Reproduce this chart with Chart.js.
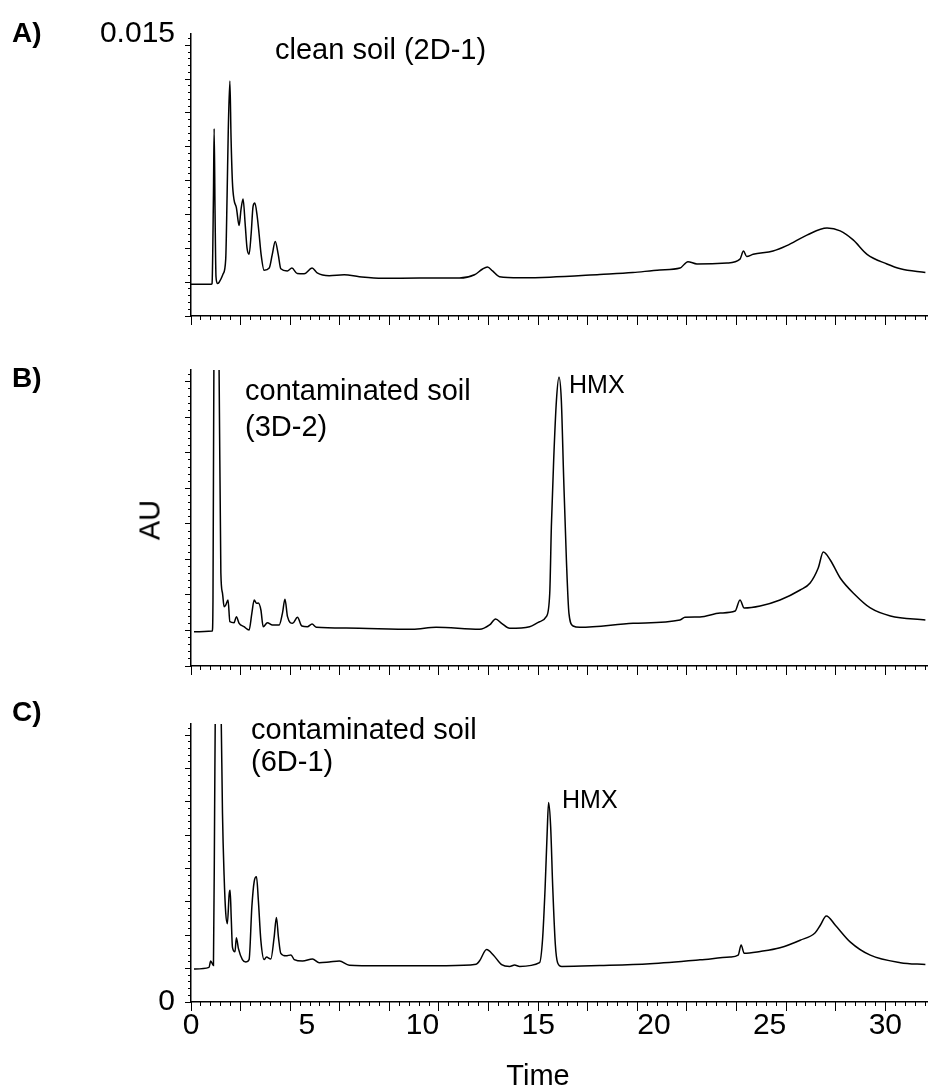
<!DOCTYPE html>
<html>
<head>
<meta charset="utf-8">
<script src="https://cdn.jsdelivr.net/npm/chart.js@4.4.0/dist/chart.umd.min.js"></script>
<style>
  body { margin: 0; background: #fff; width: 929px; height: 1092px; position: relative; overflow: hidden;
         font-family: "Liberation Sans", Arial, sans-serif; color: #000; }
  canvas { position: absolute; left: 0; }
  .t { position: absolute; white-space: nowrap; line-height: 1; }
</style>
</head>
<body>
<canvas id="chartA" width="929" height="350" style="top:0px"></canvas>
<canvas id="chartB" width="929" height="340" style="top:350px"></canvas>
<canvas id="chartC" width="929" height="402" style="top:690px"></canvas>

<div class="t" style="left:12px; top:19px; font-size:28px; font-weight:bold">A)</div>
<div class="t" style="left:12px; top:364px; font-size:28px; font-weight:bold">B)</div>
<div class="t" style="left:12px; top:698px; font-size:28px; font-weight:bold">C)</div>

<div class="t" style="left:275px; top:35px; font-size:29px">clean soil (2D-1)</div>
<div class="t" style="left:245px; top:376px; font-size:29px">contaminated soil</div>
<div class="t" style="left:245px; top:412px; font-size:29px">(3D-2)</div>
<div class="t" style="left:569px; top:372px; font-size:25px">HMX</div>
<div class="t" style="left:251px; top:715px; font-size:29px">contaminated soil</div>
<div class="t" style="left:251px; top:747px; font-size:29px">(6D-1)</div>
<div class="t" style="left:562px; top:787px; font-size:25px">HMX</div>

<div class="t" style="left:150px; top:520px; font-size:29px; transform:translate(-50%,-50%) rotate(-90deg)">AU</div>
<div class="t" style="left:538px; top:1061px; font-size:29px; transform:translateX(-50%)">Time</div>

<script>
// retention time (min) and absorbance (mAU above each panel's baseline axis)
const timeA = [0, 0.87, 0.91, 0.97, 1.00, 1.04, 1.08, 1.14, 1.21, 1.39, 1.50, 1.56, 1.61, 1.68, 1.73, 1.79, 1.86, 1.96,
  2.08, 2.16, 2.25, 2.34, 2.42, 2.51, 2.60, 2.68, 2.76, 2.86, 2.94, 3.03, 3.16, 3.38, 3.51, 3.64, 3.77, 3.88, 4.16, 4.36,
  4.59, 4.89, 5.23, 5.45, 5.97, 6.62, 7.27, 8.27, 9.87, 11.60, 12.25, 12.60, 12.81, 13.03, 13.33, 14.20, 15.50, 17.66,
  19.09, 20.26, 21.13, 21.47, 21.86, 23.16, 23.72, 23.87, 24.01, 24.29, 25.15, 25.74, 26.61, 27.48, 28.05, 28.61, 29.21,
  30.07, 30.65, 31.73];
const auA = [0.561, 0.561, 0.578, 2.143, 3.321, 1.803, 0.697, 0.578, 0.595, 0.748, 1.009, 2.143, 3.282, 4.167, 3.163, 2.369,
  2.058, 1.922, 1.604, 1.888, 2.075, 1.633, 1.207, 1.094, 1.463, 1.939, 2.002, 1.769, 1.463, 1.088, 0.811, 0.850, 1.088,
  1.321, 1.088, 0.838, 0.799, 0.850, 0.753, 0.748, 0.850, 0.765, 0.714, 0.731, 0.697, 0.668, 0.672, 0.672, 0.731, 0.833,
  0.867, 0.799, 0.697, 0.680, 0.689, 0.736, 0.770, 0.816, 0.850, 0.964, 0.923, 0.940, 1.009, 1.151, 1.054, 1.094, 1.151,
  1.247, 1.434, 1.560, 1.509, 1.349, 1.094, 0.923, 0.838, 0.770];

const timeB = [0.13, 0.92, 0.95, 0.99, 1.10, 1.21, 1.29, 1.36, 1.43, 1.50, 1.60, 1.68, 1.86, 1.96, 2.08, 2.29, 2.51, 2.63,
  2.73, 2.83, 2.91, 3.02, 3.12, 3.30, 3.52, 3.81, 3.95, 4.06, 4.17, 4.39, 4.60, 4.79, 5.03, 5.23, 5.42, 6.70, 9.57, 10.59,
  12.47, 12.90, 13.16, 13.42, 13.77, 14.63, 15.06, 15.35, 15.50, 15.57, 15.67, 15.79, 15.90, 16.00, 16.10, 16.22, 16.33,
  16.51, 16.80, 19.10, 21.13, 21.34, 21.99, 22.86, 23.51, 23.72, 23.90, 24.59, 25.45, 26.32, 26.75, 27.10, 27.32, 27.62,
  28.05, 28.70, 29.35, 30.22, 31.73];
const auB = [0.579, 0.591, 1.115, 5.169, 7.0, 5.169, 1.571, 1.233, 1.002, 1.030, 1.115, 0.748, 0.731, 0.833, 0.721, 0.664,
  0.608, 0.895, 1.115, 1.059, 1.064, 0.946, 0.664, 0.731, 0.693, 0.693, 0.890, 1.127, 0.833, 0.721, 0.823, 0.676, 0.664,
  0.709, 0.654, 0.642, 0.620, 0.654, 0.620, 0.693, 0.794, 0.721, 0.637, 0.664, 0.748, 0.833, 1.228, 2.353, 3.480, 4.493,
  4.877, 4.493, 3.198, 1.791, 0.890, 0.676, 0.654, 0.721, 0.777, 0.823, 0.828, 0.895, 0.929, 1.115, 0.980, 1.014, 1.115,
  1.284, 1.402, 1.655, 1.926, 1.791, 1.486, 1.199, 0.980, 0.845, 0.777];

const timeC = [0.13, 0.78, 0.85, 0.97, 1.02, 1.05, 1.17, 1.30, 1.36, 1.43, 1.50, 1.57, 1.65, 1.69, 1.74, 1.79, 1.90, 1.96,
  2.05, 2.22, 2.37, 2.51, 2.63, 2.73, 2.83, 2.91, 3.02, 3.16, 3.26, 3.45, 3.59, 3.69, 3.78, 3.88, 4.10, 4.32, 4.46, 4.82,
  5.25, 5.54, 5.97, 6.41, 6.84, 8.14, 11.03, 12.32, 12.47, 12.77, 13.07, 13.42, 13.77, 13.98, 14.20, 15.06, 15.19, 15.30,
  15.39, 15.45, 15.54, 15.63, 15.74, 15.84, 16.02, 17.66, 19.83, 21.99, 23.29, 23.64, 23.77, 23.90, 24.59, 25.45, 26.32,
  26.97, 27.19, 27.45, 27.84, 28.49, 29.35, 30.65, 31.73];
const auC = [0.594, 0.623, 0.736, 0.657, 3.40, 5.25, 7.0, 5.25, 3.40, 2.278, 1.604, 1.409, 1.941, 2.008, 1.493, 0.988,
  0.904, 1.157, 0.960, 0.763, 0.719, 0.763, 1.717, 2.167, 2.251, 1.830, 1.099, 0.763, 0.808, 0.774, 1.157, 1.520, 1.157,
  0.875, 0.830, 0.847, 0.763, 0.736, 0.774, 0.707, 0.719, 0.736, 0.662, 0.652, 0.652, 0.678, 0.741, 0.943, 0.842, 0.673,
  0.640, 0.665, 0.640, 0.707, 1.128, 2.054, 3.064, 3.586, 3.148, 2.054, 1.044, 0.707, 0.640, 0.657, 0.690, 0.758, 0.808,
  0.842, 1.027, 0.875, 0.909, 0.976, 1.111, 1.246, 1.380, 1.549, 1.380, 1.077, 0.842, 0.707, 0.673];

// axis ranges and tick steps (detector plot's own ticks, labels added separately)
const timeMax = 31.8;
const panelSpan = 5;            // mAU shown in each panel
const timeLabels = [0, 5, 10, 15, 20, 25, 30];
const timeMajorStep = 15 / 7;
const timeMinorStep = 3 / 7;
const auMajorStep = 0.6;
const auMinorStep = 0.12;

const plotLeft = 191;

function stepTicks(max, step) {
  const out = [];
  for (let i = 0; i * step <= max + 1e-9; i++) out.push({ value: i * step });
  return out;
}

const zeroWidth = s => { s.width = 0; };
const zeroHeight = s => { s.height = 0; };

function tickAxis(position, max, step, len, border) {
  return {
    type: 'linear', position, min: 0, max,
    afterBuildTicks: s => { s.ticks = stepTicks(max, step); },
    afterFit: position === 'bottom' ? zeroHeight : zeroWidth,
    ticks: { display: false },
    grid: { display: true, drawOnChartArea: false, drawTicks: true, tickLength: len, color: '#000', lineWidth: 1 },
    border: { display: border, color: '#000', width: 1.5 }
  };
}

function makePanel(id, times, values, pad, extra) {
  const scales = {
    x: tickAxis('bottom', timeMax, timeMajorStep, 9, true),
    xMinor: tickAxis('bottom', timeMax, timeMinorStep, 4, false),
    y: tickAxis('left', panelSpan, auMajorStep, 6, true),
    yMinor: tickAxis('left', panelSpan, auMinorStep, 3, false)
  };
  // label axes (added last) sit outside the zero-width tick axes and take the margin themselves
  const hasYLabel = extra && extra.yLabel;
  const hasXLabel = extra && extra.xLabel;
  Object.assign(scales, extra || {});
  return new Chart(document.getElementById(id), {
    type: 'line',
    data: {
      datasets: [{
        data: times.map((t, i) => ({ x: t, y: values[i] })),
        borderColor: '#000', borderWidth: 1.5, pointRadius: 0, fill: false,
        cubicInterpolationMode: 'monotone'
      }]
    },
    options: {
      responsive: false, animation: false, events: [],
      layout: { padding: { left: hasYLabel ? 0 : plotLeft, right: 2, top: pad[0], bottom: hasXLabel ? 0 : pad[1] } },
      plugins: { legend: { display: false }, tooltip: { enabled: false } },
      scales
    }
  });
}

const labelFont = { family: '"Liberation Sans", Arial, sans-serif', size: 30 };

function yLabelAxis(value, text) {
  return {
    type: 'linear', position: 'left', min: 0, max: panelSpan,
    afterBuildTicks: s => { s.ticks = [{ value }]; },
    afterFit: s => { s.width = plotLeft; },
    grid: { display: false, drawTicks: false },
    border: { display: false },
    ticks: { autoSkip: false, padding: 16, color: '#000', font: labelFont, callback: () => text }
  };
}

makePanel('chartA', timeA, auA, [32, 24], { yLabel: yLabelAxis(panelSpan, '0.015') });
makePanel('chartB', timeB, auB, [20, 24]);
makePanel('chartC', timeC, auC, [15, 90], {
  yLabel: yLabelAxis(0, '0'),
  xLabel: {
    type: 'linear', position: 'bottom', min: 0, max: timeMax,
    afterBuildTicks: s => { s.ticks = timeLabels.map(v => ({ value: v })); },
    afterFit: s => { s.height = 90; },
    grid: { display: false, drawTicks: false },
    border: { display: false },
    ticks: { autoSkip: false, maxRotation: 0, padding: 6, color: '#000', font: labelFont }
  }
});
</script>
</body>
</html>
